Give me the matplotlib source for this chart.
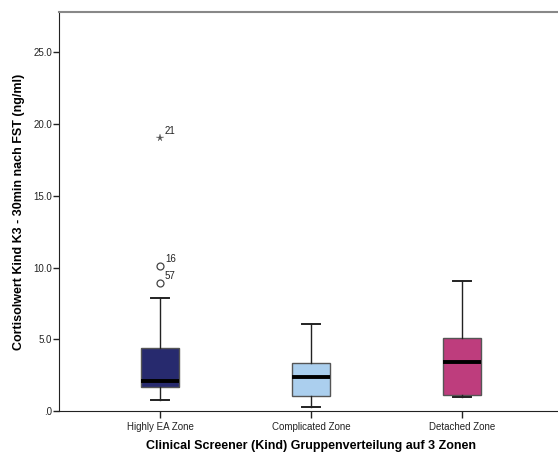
import matplotlib
matplotlib.use("Agg")
import matplotlib.pyplot as plt
from matplotlib.ticker import FuncFormatter

categories = ["Highly EA Zone", "Complicated Zone", "Detached Zone"]
whislo = [0.77, 0.28, 0.97]
q1 = [1.67, 1.07, 1.16]
med = [2.10, 2.39, 3.43]
q3 = [4.40, 3.36, 5.13]
whishi = [7.87, 6.10, 9.05]
box_colors = ["#272a6e", "#abcfee", "#be3d7d"]

outlier_cat = [1, 1]
outlier_vals = [10.1, 8.9]
outlier_ids = ["16", "57"]
extreme_cat = [1]
extreme_vals = [19.0]
extreme_ids = ["21"]

yticks = [0, 5, 10, 15, 20, 25]

plt.rcParams['font.family'] = ['Liberation Sans', 'DejaVu Sans']

fig = plt.figure(figsize=(5.58, 4.53), dpi=100)
ax = fig.add_axes([59/558, 1 - 411.3/453, (558-59)/558, (411.3-12.5)/453])

stats = []
for i in range(3):
    stats.append(dict(whislo=whislo[i], q1=q1[i], med=med[i], q3=q3[i],
                      whishi=whishi[i], fliers=[], label=categories[i]))
pos = [1, 2, 3]
bp = ax.bxp(stats, positions=pos, widths=0.256, patch_artist=True, showfliers=False,
            boxprops=dict(edgecolor="#555555", linewidth=1.0),
            medianprops=dict(color="black", linewidth=2.8, solid_capstyle="butt"),
            whiskerprops=dict(color="#222222", linewidth=1.0),
            capprops=dict(color="#222222", linewidth=1.4),
            capwidths=0.125)
for patch, c in zip(bp['boxes'], box_colors):
    patch.set_facecolor(c)

ax.plot(outlier_cat, outlier_vals, linestyle="none", marker="o", markersize=5,
        markerfacecolor="none", markeredgecolor="#444444", markeredgewidth=0.9)
ax.plot(extreme_cat, extreme_vals, linestyle="none", marker="*", markersize=5.5,
        color="#555555", markeredgewidth=0.2)
for x, y, t in zip(outlier_cat + extreme_cat, outlier_vals + extreme_vals,
                   outlier_ids + extreme_ids):
    ax.annotate(t, (x, y), xytext=(3.5, 3), textcoords="offset points",
                fontsize=7, color="#222222")

ax.set_xlim(1 - 101/151, 3 + 96/151)
ax.set_ylim(0, 27.77)
ax.set_yticks(yticks)
ax.yaxis.set_major_formatter(FuncFormatter(lambda v, p: ".0" if v == 0 else f"{v:.1f}"))
ax.set_xticks(pos)
ax.set_xticklabels(categories)
ax.tick_params(axis='y', direction='out', length=4, width=1, labelsize=7,
               colors="#222222", pad=1)
ax.tick_params(axis='x', direction='out', length=5, width=1, labelsize=7,
               colors="#222222", pad=3)

ax.spines['right'].set_visible(False)
ax.spines['top'].set_color("#888888")
ax.spines['top'].set_linewidth(1.5)
ax.spines['left'].set_color("#222222")
ax.spines['bottom'].set_color("#222222")

ax.set_ylabel("Cortisolwert Kind K3 - 30min nach FST (ng/ml)", fontsize=9,
              fontweight="bold")
ax.yaxis.set_label_coords(-(59-25)/(558-59), 0.5)
ax.set_xlabel("Clinical Screener (Kind) Gruppenverteilung auf 3 Zonen", fontsize=9,
              fontweight="bold")
ax.xaxis.set_label_coords((311-59)/(558-59), -(440-411.3)/(411.3-12.5))

fig.savefig("out.png", dpi=100)
